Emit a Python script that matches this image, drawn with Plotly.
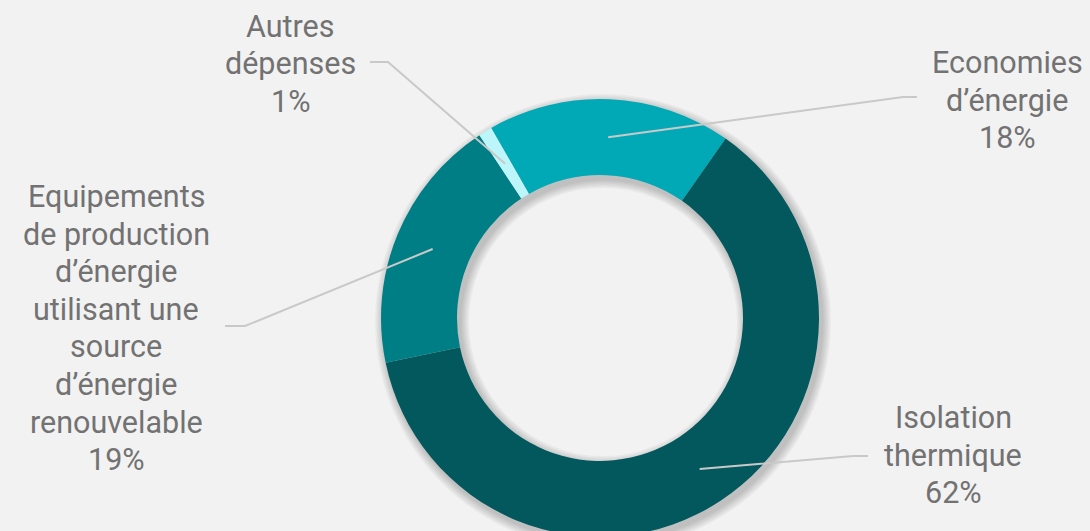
import math
import plotly.graph_objects as go

# Répartition des dépenses (en %)
categories = [
    "Economies<br>d’énergie",
    "Isolation<br>thermique",
    "Equipements<br>de production<br>d’énergie<br>utilisant une<br>source<br>d’énergie<br>renouvelable",
    "Autres<br>dépenses",
]
values = [18, 62, 19, 1]
colors = ["#00a9b5", "#02585d", "#007e85", "#bdf6fa"]

# Page geometry (pixels)
W, H_VIEW = 1090, 531
CX, CY, R = 600, 318, 219          # ring centre / outer radius
R_IN = 143                          # hole radius
ROTATION = 330.2                    # first slice starts here (clockwise from 12 o'clock)
LINE_GAP = 37.6                     # distance between text lines
FONT = dict(family="Roboto", size=30.5, color="#727272")

# soft drop shadow under the ring
SH_DX, SH_DY, SH_BLUR, SH_STEPS = 3, 4, 9, 6

H = max(H_VIEW, int(CY + SH_DY + R + SH_BLUR + 2))

# label placement: text block centre, line end, knee
label_pos = [
    dict(tx=1007, ty=100, ex=917, ey=97, kx=903),
    dict(tx=953, ty=455, ex=868, ey=456, kx=853),
    dict(tx=116, ty=328, ex=225, ey=326, kx=245),
    dict(tx=290, ty=64, ex=370, ey=62, kx=388),
]


def px(x):
    return x / W


def py(y):
    return 1 - y / H


def ring_domain(cx, cy, r):
    return dict(x=[px(cx - r), px(cx + r)], y=[py(cy + r), py(cy - r)])


fig = go.Figure()

total = sum(values)
for i in range(SH_STEPS):
    e = SH_BLUR * (i + 1) / SH_STEPS
    fig.add_trace(
        go.Pie(
            values=[total],
            hole=(R_IN - e) / (R + e),
            marker=dict(colors=["rgba(0,0,0,0.035)"], line=dict(width=0)),
            textinfo="none",
            hoverinfo="skip",
            showlegend=False,
            sort=False,
            domain=ring_domain(CX + SH_DX, CY + SH_DY, R + e),
        )
    )

fig.add_trace(
    go.Pie(
        labels=[c.replace("<br>", " ") for c in categories],
        values=values,
        hole=R_IN / R,
        sort=False,
        direction="clockwise",
        rotation=ROTATION,
        marker=dict(colors=colors, line=dict(width=0)),
        textinfo="none",
        hoverinfo="label+percent",
        showlegend=False,
        domain=ring_domain(CX, CY, R),
    )
)

start = ROTATION
annotations, shapes = [], []
r_mid = (R + R_IN) / 2
for cat, v, pos in zip(categories, values, label_pos):
    mid = math.radians(start + 360 * v / total / 2)
    start += 360 * v / total
    sx = CX + r_mid * math.sin(mid)
    sy = CY - r_mid * math.cos(mid)
    path = (
        f"M {px(sx)} {py(sy)} L {px(pos['kx'])} {py(pos['ey'])} "
        f"L {px(pos['ex'])} {py(pos['ey'])}"
    )
    shapes.append(
        dict(type="path", xref="paper", yref="paper", path=path,
             line=dict(color="#c9c9c9", width=2))
    )
    lines = cat.split("<br>") + [f"{round(100 * v / total)}%"]
    top = pos["ty"] - LINE_GAP * (len(lines) - 1) / 2
    for k, line in enumerate(lines):
        annotations.append(
            dict(
                x=px(pos["tx"]), y=py(top + k * LINE_GAP),
                xref="paper", yref="paper",
                text=line, showarrow=False,
                xanchor="center", yanchor="middle", align="center",
                font=FONT,
            )
        )

fig.update_layout(
    width=W,
    height=H,
    margin=dict(l=0, r=0, t=0, b=0),
    paper_bgcolor="#f2f2f2",
    plot_bgcolor="#f2f2f2",
    shapes=shapes,
    annotations=annotations,
)

fig.write_html(
    "out.html",
    config={"displayModeBar": False},
    post_script="document.documentElement.style.overflow='hidden';"
                "document.body.style.overflow='hidden';document.body.style.margin='0';",
)
